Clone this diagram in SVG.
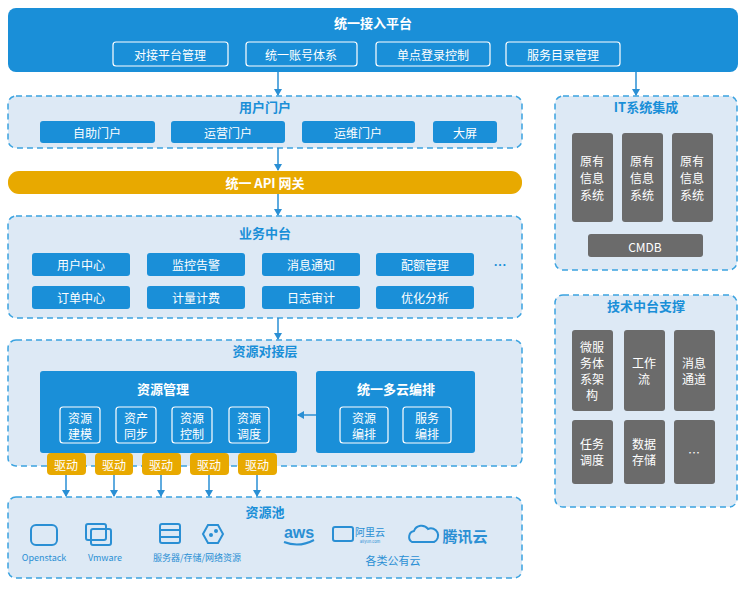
<svg xmlns="http://www.w3.org/2000/svg" width="749" height="589" viewBox="0 0 749 589">
<style>
text{font-family:"Noto Sans CJK SC","Liberation Sans",sans-serif;text-anchor:middle;dominant-baseline:central}
.panel{fill:#dde9f5;stroke:#3ba3e0;stroke-width:1.5;stroke-dasharray:6 4}
.pt{fill:#1a8fd8;font-size:13px;font-weight:bold}
.bb{fill:#1a8fd8}
.wt{fill:#fff;font-size:12px}
.wb{fill:#fff;font-size:13px;font-weight:bold}
.ob{fill:none;stroke:#fff;stroke-width:1.2}
.gb{fill:#6b6b6b}
.gt{fill:#fff;font-size:12px}
.dr{fill:#e8a900}
.ln{stroke:#2a8fd4;stroke-width:1.5;fill:none;marker-end:url(#a)}
.ic{fill:none;stroke:#2a8fd4;stroke-width:2}
.it{fill:#2a8fd4;font-size:9px}
</style>
<defs><marker id="a" markerWidth="8" markerHeight="8" refX="6" refY="4" orient="auto" markerUnits="userSpaceOnUse"><path d="M0,0 L7,4 L0,8z" fill="#2a8fd4"/></marker></defs>
<rect width="749" height="589" fill="#fff"/>
<g id="top">
<rect x="8" y="8" width="730" height="64" rx="8" class="bb"/>
<text x="373" y="22" class="wb">统一接入平台</text>
<rect x="113" y="42" width="115" height="24" rx="3" class="ob"/><text x="170" y="54" class="wt">对接平台管理</text>
<rect x="246" y="42" width="111" height="24" rx="3" class="ob"/><text x="301" y="54" class="wt">统一账号体系</text>
<rect x="376" y="42" width="114" height="24" rx="3" class="ob"/><text x="433" y="54" class="wt">单点登录控制</text>
<rect x="506" y="42" width="114" height="24" rx="3" class="ob"/><text x="563" y="54" class="wt">服务目录管理</text>
</g>
<g id="portal">
<rect x="8" y="96" width="514" height="52" rx="8" class="panel"/>
<text x="265" y="106" class="pt">用户门户</text>
<rect x="40" y="121" width="115" height="22" rx="3" class="bb"/><text x="97" y="132" class="wt">自助门户</text>
<rect x="171" y="121" width="114" height="22" rx="3" class="bb"/><text x="228" y="132" class="wt">运营门户</text>
<rect x="302" y="121" width="113" height="22" rx="3" class="bb"/><text x="358" y="132" class="wt">运维门户</text>
<rect x="433" y="121" width="64" height="22" rx="3" class="bb"/><text x="465" y="132" class="wt">大屏</text>
</g>
<g id="api">
<rect x="8" y="171" width="514" height="23" rx="11" class="dr"/>
<text x="265" y="182" class="wb">统一 API 网关</text>
</g>
<g id="biz">
<rect x="8" y="216" width="514" height="102" rx="8" class="panel"/>
<text x="265" y="232" class="pt">业务中台</text>
<rect x="32" y="253" width="98" height="23" rx="3" class="bb"/><text x="81" y="264" class="wt">用户中心</text>
<rect x="147" y="253" width="98" height="23" rx="3" class="bb"/><text x="196" y="264" class="wt">监控告警</text>
<rect x="262" y="253" width="98" height="23" rx="3" class="bb"/><text x="311" y="264" class="wt">消息通知</text>
<rect x="376" y="253" width="98" height="23" rx="3" class="bb"/><text x="425" y="264" class="wt">配额管理</text>
<text x="500" y="264" class="pt">…</text>
<rect x="32" y="286" width="98" height="23" rx="3" class="bb"/><text x="81" y="297" class="wt">订单中心</text>
<rect x="147" y="286" width="98" height="23" rx="3" class="bb"/><text x="196" y="297" class="wt">计量计费</text>
<rect x="262" y="286" width="98" height="23" rx="3" class="bb"/><text x="311" y="297" class="wt">日志审计</text>
<rect x="376" y="286" width="98" height="23" rx="3" class="bb"/><text x="425" y="297" class="wt">优化分析</text>
</g>
<g id="res">
<rect x="8" y="340" width="514" height="126" rx="8" class="panel"/>
<text x="265" y="350" class="pt">资源对接层</text>
<rect x="40" y="371" width="257" height="82" rx="3" class="bb"/>
<text x="163" y="388" class="wb">资源管理</text>
<rect x="60" y="407" width="40" height="36" rx="3" class="ob"/><text x="80" y="417" class="wt" font-size="11">资源</text><text x="80" y="433" class="wt" font-size="11">建模</text>
<rect x="116" y="407" width="40" height="36" rx="3" class="ob"/><text x="136" y="417" class="wt" font-size="11">资产</text><text x="136" y="433" class="wt" font-size="11">同步</text>
<rect x="172" y="407" width="40" height="36" rx="3" class="ob"/><text x="192" y="417" class="wt" font-size="11">资源</text><text x="192" y="433" class="wt" font-size="11">控制</text>
<rect x="229" y="407" width="40" height="36" rx="3" class="ob"/><text x="249" y="417" class="wt" font-size="11">资源</text><text x="249" y="433" class="wt" font-size="11">调度</text>
<rect x="316" y="371" width="159" height="82" rx="3" class="bb"/>
<text x="396" y="388" class="wb">统一多云编排</text>
<rect x="340" y="407" width="48" height="36" rx="3" class="ob"/><text x="364" y="417" class="wt" font-size="11">资源</text><text x="364" y="433" class="wt" font-size="11">编排</text>
<rect x="403" y="407" width="48" height="36" rx="3" class="ob"/><text x="427" y="417" class="wt" font-size="11">服务</text><text x="427" y="433" class="wt" font-size="11">编排</text>
</g>
<g id="drivers">
<rect x="47" y="453" width="39" height="22" rx="4" class="dr"/><text x="66" y="464" class="wt">驱动</text>
<rect x="95" y="453" width="38" height="22" rx="4" class="dr"/><text x="114" y="464" class="wt">驱动</text>
<rect x="142" y="453" width="39" height="22" rx="4" class="dr"/><text x="161" y="464" class="wt">驱动</text>
<rect x="190" y="453" width="39" height="22" rx="4" class="dr"/><text x="209" y="464" class="wt">驱动</text>
<rect x="238" y="453" width="39" height="22" rx="4" class="dr"/><text x="257" y="464" class="wt">驱动</text>
</g>
<g id="pool">
<rect x="8" y="497" width="514" height="81" rx="8" class="panel"/>
<text x="265" y="511" class="pt">资源池</text>
<rect x="31" y="525" width="26" height="20" rx="5" class="ic" stroke-width="4"/>
<text x="44" y="557" class="it">Openstack</text>
<rect x="86" y="524" width="20" height="16" rx="2" class="ic" stroke-width="1.5"/><rect x="91" y="529" width="20" height="16" rx="2" class="ic" stroke-width="1.5"/>
<text x="105" y="557" class="it">Vmware</text>
<rect x="160" y="524" width="20" height="19" rx="2" class="ic" stroke-width="1.8"/><line x1="160" y1="530" x2="180" y2="530" class="ic" stroke-width="1.5"/><line x1="160" y1="537" x2="180" y2="537" class="ic" stroke-width="1.5"/>
<polygon points="203,534 208,525 218,525 223,534 218,543 208,543" class="ic" stroke-width="2"/><circle cx="211" cy="535" r="2" fill="#2a8fd4"/><circle cx="216" cy="531" r="2" fill="#2a8fd4"/>
<text x="197" y="557" class="it">服务器/存储/网络资源</text>
<text x="299" y="532" fill="#2a8fd4" font-size="16" font-weight="bold" style="font-family:'Liberation Sans',sans-serif">aws</text>
<path d="M284,542 Q299,548 314,540" class="ic" stroke-width="1.5"/>
<rect x="333" y="527" width="20" height="14" rx="2" class="ic" stroke-width="3"/>
<text x="370" y="531" fill="#2a8fd4" font-size="10">阿里云</text>
<text x="370" y="541" fill="#2a8fd4" font-size="4">aliyun.com</text>
<path d="M412,542 a6,6 0 0 1 2,-11 a8,8 0 0 1 14,-2 a6,6 0 0 1 6,13 z" class="ic" stroke-width="2.5"/>
<text x="465" y="535" fill="#2a8fd4" font-size="15" font-weight="bold">腾讯云</text>
<text x="393" y="560" fill="#2a8fd4" font-size="11">各类公有云</text>
</g>
<g id="it">
<rect x="555" y="96" width="182" height="174" rx="8" class="panel"/>
<text x="646" y="106" class="pt">IT系统集成</text>
<rect x="572" y="133" width="41" height="89" rx="3" class="gb"/><text x="592" y="160" class="gt">原有</text><text x="592" y="177" class="gt">信息</text><text x="592" y="194" class="gt">系统</text>
<rect x="622" y="133" width="41" height="89" rx="3" class="gb"/><text x="642" y="160" class="gt">原有</text><text x="642" y="177" class="gt">信息</text><text x="642" y="194" class="gt">系统</text>
<rect x="672" y="133" width="41" height="89" rx="3" class="gb"/><text x="692" y="160" class="gt">原有</text><text x="692" y="177" class="gt">信息</text><text x="692" y="194" class="gt">系统</text>
<rect x="588" y="234" width="115" height="23" rx="3" class="gb"/><text x="645" y="246" class="gt" font-size="13">CMDB</text>
</g>
<g id="tech">
<rect x="555" y="295" width="182" height="212" rx="8" class="panel"/>
<text x="646" y="305" class="pt">技术中台支撑</text>
<rect x="572" y="330" width="41" height="81" rx="3" class="gb"/><text x="592" y="346" class="gt">微服</text><text x="592" y="362" class="gt">务体</text><text x="592" y="378" class="gt">系架</text><text x="592" y="394" class="gt">构</text>
<rect x="624" y="330" width="41" height="81" rx="3" class="gb"/><text x="644" y="362" class="gt">工作</text><text x="644" y="378" class="gt">流</text>
<rect x="674" y="330" width="41" height="81" rx="3" class="gb"/><text x="694" y="362" class="gt">消息</text><text x="694" y="378" class="gt">通道</text>
<rect x="572" y="420" width="41" height="64" rx="3" class="gb"/><text x="592" y="443" class="gt">任务</text><text x="592" y="459" class="gt">调度</text>
<rect x="624" y="420" width="41" height="64" rx="3" class="gb"/><text x="644" y="443" class="gt">数据</text><text x="644" y="459" class="gt">存储</text>
<rect x="674" y="420" width="41" height="64" rx="3" class="gb"/><text x="694" y="452" class="gt">…</text>
</g>
<g id="connectors">
<line x1="278" y1="72" x2="278" y2="95" class="ln"/>
<line x1="636" y1="72" x2="636" y2="95" class="ln"/>
<line x1="278" y1="148" x2="278" y2="170" class="ln"/>
<line x1="278" y1="194" x2="278" y2="215" class="ln"/>
<line x1="278" y1="318" x2="278" y2="339" class="ln"/>
<line x1="316" y1="415" x2="298" y2="415" class="ln"/>
<line x1="66" y1="475" x2="66" y2="496" class="ln"/>
<line x1="114" y1="475" x2="114" y2="496" class="ln"/>
<line x1="161" y1="475" x2="161" y2="496" class="ln"/>
<line x1="209" y1="475" x2="209" y2="496" class="ln"/>
<line x1="257" y1="475" x2="257" y2="496" class="ln"/>
</g>
</svg>
